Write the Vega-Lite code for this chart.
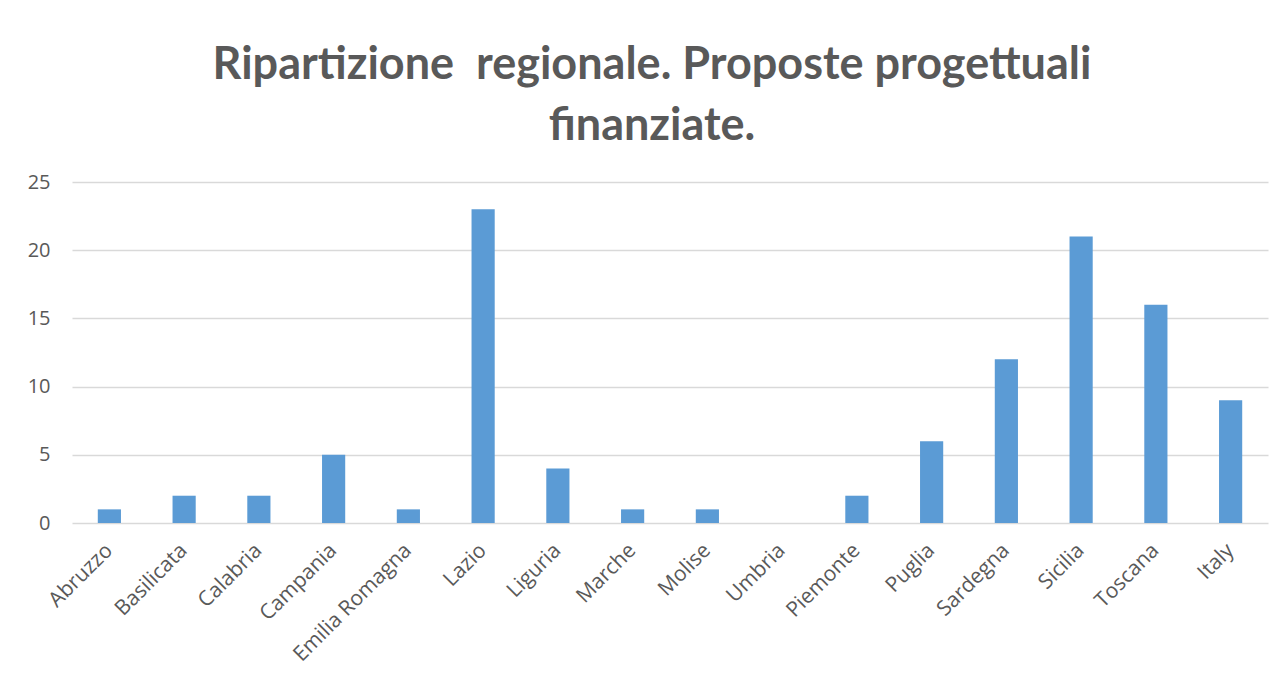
{
  "$schema": "https://vega.github.io/schema/vega-lite/v6.json",
  "autosize": "none",
  "width": 1196,
  "height": 341,
  "padding": {"left": 72, "top": 182, "right": 19, "bottom": 157},
  "background": "white",
  "title": {
    "text": ["Ripartizione\u00a0 regionale. Proposte progettuali", "finanziate."],
    "font": "Lato",
    "fontSize": 45,
    "fontWeight": "bold",
    "color": "#595959",
    "anchor": "middle",
    "dx": -18,
    "offset": 23,
    "lineHeight": 61
  },
  "data": {
    "values": [
      {"regione": "Abruzzo", "n": 1},
      {"regione": "Basilicata", "n": 2},
      {"regione": "Calabria", "n": 2},
      {"regione": "Campania", "n": 5},
      {"regione": "Emilia Romagna", "n": 1},
      {"regione": "Lazio", "n": 23},
      {"regione": "Liguria", "n": 4},
      {"regione": "Marche", "n": 1},
      {"regione": "Molise", "n": 1},
      {"regione": "Umbria", "n": 0},
      {"regione": "Piemonte", "n": 2},
      {"regione": "Puglia", "n": 6},
      {"regione": "Sardegna", "n": 12},
      {"regione": "Sicilia", "n": 21},
      {"regione": "Toscana", "n": 16},
      {"regione": "Italy", "n": 9}
    ]
  },
  "mark": {"type": "bar", "color": "#5b9bd5"},
  "encoding": {
    "x": {
      "field": "regione",
      "type": "nominal",
      "sort": null,
      "scale": {"paddingInner": 0.69, "paddingOuter": 0.345},
      "axis": {
        "title": null,
        "labelAngle": -45,
        "labelAlign": "right",
        "labelBaseline": "middle",
        "labelFont": "Open Sans",
        "labelFontSize": 21,
        "labelColor": "#595959",
        "labelPadding": 24,
        "ticks": false,
        "domain": false,
        "grid": false
      }
    },
    "y": {
      "field": "n",
      "type": "quantitative",
      "scale": {"domain": [0, 25]},
      "axis": {
        "title": null,
        "values": [0, 5, 10, 15, 20, 25],
        "labelFont": "Open Sans",
        "labelFontSize": 20,
        "labelColor": "#595959",
        "labelPadding": 22,
        "ticks": false,
        "domain": false,
        "grid": true,
        "gridColor": "#d9d9d9",
        "gridWidth": 1.5
      }
    }
  },
  "config": {"view": {"stroke": null}}
}
